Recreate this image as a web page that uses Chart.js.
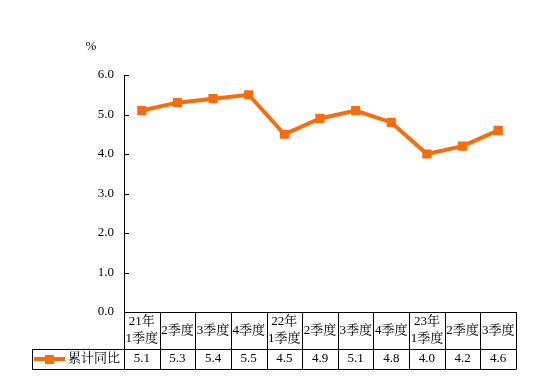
<!DOCTYPE html>
<html><head><meta charset="utf-8">
<style>html,body{margin:0;padding:0;background:#fff;}#wrap{width:554px;height:382px;}</style>
<script src="https://cdn.jsdelivr.net/npm/chart.js@4/dist/chart.umd.min.js"></script>
</head><body><div id="wrap"><canvas id="c" width="554" height="382"></canvas></div>
<script>
const categories = [['21年','1季度'],'2季度','3季度','4季度',['22年','1季度'],'2季度','3季度','4季度',['23年','1季度'],'2季度','3季度'];
const seriesName = '累计同比';
const values = [5.1,5.3,5.4,5.5,4.5,4.9,5.1,4.8,4.0,4.2,4.6];
const yTicks = [0,1,2,3,4,5,6];
const unitLabel = '%';

const ORANGE = '#F66D0E';
const SERIF = '"Liberation Serif", "Noto Serif CJK SC", "Noto Sans CJK SC", serif';

const tablePlugin = {
  id: 'tablePlugin',
  afterDraw(chart) {
    const ctx = chart.ctx;
    const xs = chart.scales.x, ys = chart.scales.y;
    const ca = chart.chartArea;
    const n = categories.length;
    const w = (ca.right - ca.left) / n;
    const top = ca.bottom, mid = ca.bottom + 37, bot = ca.bottom + 57;
    const legLeft = 32;
    ctx.save();
    ctx.strokeStyle = '#000'; ctx.lineWidth = 1;
    ys.ticks.forEach(t => {
      const y = Math.round(ys.getPixelForValue(t.value)) + 0.5;
      ctx.beginPath(); ctx.moveTo(ca.left, y); ctx.lineTo(ca.left + 5, y); ctx.stroke();
    });
    const L = Math.round(ca.left) + 0.5, R = Math.round(ca.right) + 0.5;
    const hl = (x1, x2, y) => { y = Math.round(y) + 0.5; ctx.beginPath(); ctx.moveTo(x1, y); ctx.lineTo(x2, y); ctx.stroke(); };
    const vl = (x, y1, y2) => { x = Math.round(x) + 0.5; ctx.beginPath(); ctx.moveTo(x, y1); ctx.lineTo(x, y2); ctx.stroke(); };
    hl(L, R, top);
    hl(legLeft, R, mid);
    hl(legLeft, R, bot);
    vl(legLeft, Math.round(mid)+0.5, Math.round(bot)+0.5);
    vl(ca.left, top, bot);
    for (let i = 0; i < n; i++) {
      const cx = xs.getPixelForValue(i);
      vl(cx + w / 2, top, bot);
    }
    ctx.fillStyle = '#000';
    ctx.textAlign = 'center'; ctx.textBaseline = 'middle';
    ctx.font = '13px ' + SERIF;
    categories.forEach((c, i) => {
      const cx = xs.getPixelForValue(i);
      if (Array.isArray(c)) {
        ctx.fillText(c[0], cx, top + 10);
        ctx.fillText(c[1], cx, top + 27);
      } else {
        ctx.fillText(c, cx, top + 19);
      }
    });
    values.forEach((v, i) => {
      const cx = xs.getPixelForValue(i);
      ctx.fillText(v.toFixed(1), cx, mid + 10);
    });
    const ly = Math.round(mid + 10);
    ctx.strokeStyle = ORANGE; ctx.lineWidth = 4;
    ctx.beginPath(); ctx.moveTo(34, ly); ctx.lineTo(65, ly); ctx.stroke();
    ctx.fillStyle = ORANGE; ctx.fillRect(45, ly - 4, 9, 9);
    ctx.fillStyle = '#000'; ctx.textAlign = 'left';
    ctx.fillText(seriesName, 68, ly);
    ctx.textAlign = 'center';
    ctx.font = '13px ' + SERIF;
    ctx.fillText(unitLabel, 91, 47);
    ctx.restore();
  }
};

new Chart(document.getElementById('c'), {
  type: 'line',
  data: {
    labels: categories.map(c => Array.isArray(c) ? c.join('') : c),
    datasets: [{
      label: seriesName,
      data: values,
      borderColor: ORANGE,
      backgroundColor: ORANGE,
      borderWidth: 4,
      pointStyle: 'rect',
      pointRadius: 6.5,
      pointHoverRadius: 6.5,
      pointBorderWidth: 0,
      tension: 0
    }]
  },
  options: {
    responsive: false,
    animation: false,
    events: [],
    layout: { padding: { top: 75, bottom: 70, left: 0, right: 38 } },
    plugins: { legend: { display: false }, tooltip: { enabled: false } },
    scales: {
      x: { type: 'category', offset: true, display: false },
      y: {
        min: 0, max: 6,
        afterFit(s) { s.width = 124; },
        afterBuildTicks(s) { s.ticks = yTicks.map(v => ({ value: v })); },
        grid: { drawOnChartArea: false, drawTicks: false },
        border: { display: true, color: '#000', width: 1 },
        ticks: { padding: 10, color: '#000', font: { family: SERIF, size: 13 }, callback: v => Number(v).toFixed(1) }
      }
    }
  },
  plugins: [tablePlugin]
});
</script></body></html>
